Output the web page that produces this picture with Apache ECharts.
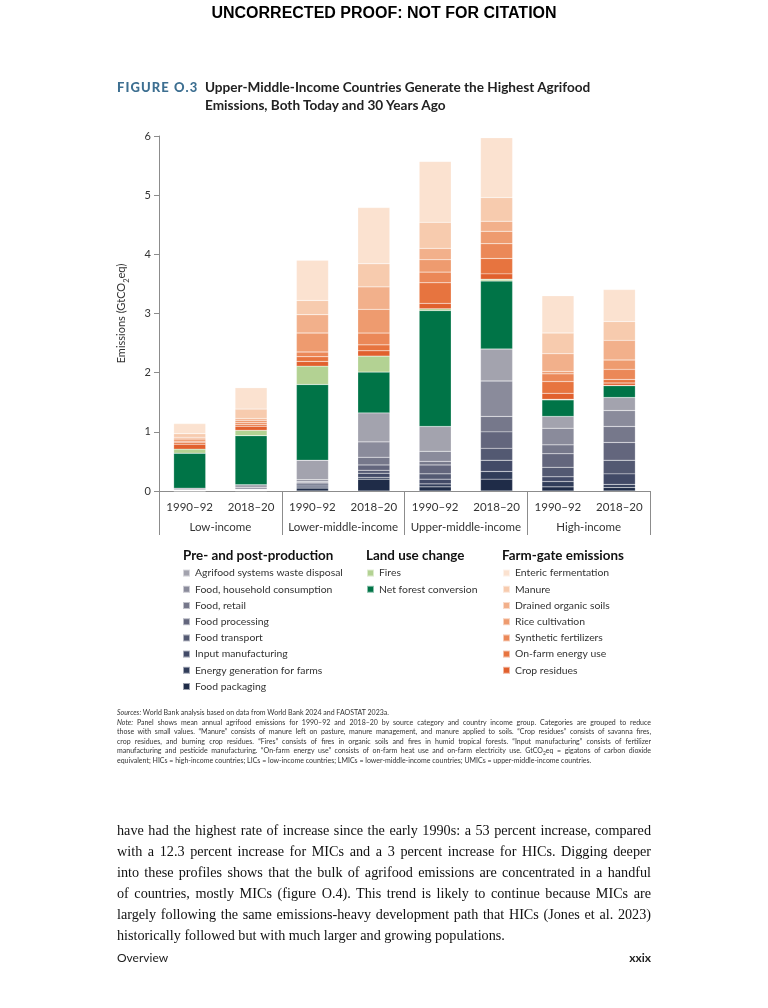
<!DOCTYPE html>
<html>
<head>
<meta charset="utf-8">
<script src="https://cdn.jsdelivr.net/npm/echarts@6/dist/echarts.min.js"></script>
<style>
  html, body { margin: 0; padding: 0; background: #fff; }
  #page { position: relative; width: 768px; height: 1008px; overflow: hidden; }
  #chart { position: absolute; left: 0; top: 0; width: 768px; height: 1008px; }
  .abs { position: absolute; }
  #proof { left: 0; width: 768px; top: 4px; text-align: center; font: bold 16px "Liberation Sans", Arial, sans-serif; color: #000; }
  #figlabel { left: 117px; top: 79px; font: 900 13px Lato, sans-serif; color: #3d6f91; letter-spacing: 1.1px; }
  #figtitle { left: 205px; top: 78px; font: bold 13.6px Lato, sans-serif; color: #222; line-height: 18px; }
  #notes { left: 117px; top: 708px; width: 534px; font: 7px Lato, sans-serif; color: #333; line-height: 9.5px; }
  #notes div { text-align: justify; text-align-last: justify; white-space: nowrap; height: 9.5px; }
  #notes div.last { text-align-last: left; }
  #notes sub { font-size: 5px; line-height: 0; vertical-align: -1.5px; }
  #body { left: 117px; top: 820px; width: 534px; font: 14.2px "Liberation Serif", "DejaVu Serif", serif; color: #111; line-height: 21px; }
  #body div { text-align: justify; text-align-last: justify; white-space: nowrap; }
  #body div.last { text-align-last: left; }
  #footL { left: 117px; top: 950px; font: 12px Lato, sans-serif; color: #222; }
  #footR { right: 117px; top: 950px; font: bold 12px Lato, sans-serif; color: #222; }
</style>
</head>
<body>
<div id="page">
  <div id="chart"></div>
  <div id="proof" class="abs">UNCORRECTED PROOF: NOT FOR CITATION</div>
  <div id="figlabel" class="abs">FIGURE O.3</div>
  <div id="figtitle" class="abs">Upper-Middle-Income Countries Generate the Highest Agrifood<br>Emissions, Both Today and 30 Years Ago</div>
  <div id="notes" class="abs">
    <div class="last"><i>Sources:</i> World Bank analysis based on data from World Bank 2024 and FAOSTAT 2023a.</div>
    <div><i>Note:</i> Panel shows mean annual agrifood emissions for 1990–92 and 2018–20 by source category and country income group. Categories are grouped to reduce</div>
    <div>those with small values. “Manure” consists of manure left on pasture, manure management, and manure applied to soils. “Crop residues” consists of savanna fires,</div>
    <div>crop residues, and burning crop residues. “Fires” consists of fires in organic soils and fires in humid tropical forests. “Input manufacturing” consists of fertilizer</div>
    <div>manufacturing and pesticide manufacturing. “On-farm energy use” consists of on-farm heat use and on-farm electricity use. GtCO<sub>2</sub>eq = gigatons of carbon dioxide</div>
    <div class="last">equivalent; HICs = high-income countries; LICs = low-income countries; LMICs = lower-middle-income countries; UMICs = upper-middle-income countries.</div>
  </div>
  <div id="body" class="abs">
    <div>have had the highest rate of increase since the early 1990s: a 53 percent increase, compared</div>
    <div>with a 12.3 percent increase for MICs and a 3 percent increase for HICs. Digging deeper</div>
    <div>into these profiles shows that the bulk of agrifood emissions are concentrated in a handful</div>
    <div>of countries, mostly MICs (figure O.4). This trend is likely to continue because MICs are</div>
    <div>largely following the same emissions-heavy development path that HICs (Jones et al. 2023)</div>
    <div class="last">historically followed but with much larger and growing populations.</div>
  </div>
  <div id="footL" class="abs">Overview</div>
  <div id="footR" class="abs">xxix</div>
</div>
<script>
// ---- Data ----
const periods = ['1990–92', '2018–20', '1990–92', '2018–20', '1990–92', '2018–20', '1990–92', '2018–20'];
const groups = ['Low-income', 'Lower-middle-income', 'Upper-middle-income', 'High-income'];
const yTicks = [0, 1, 2, 3, 4, 5, 6];

// Pre- and post-production (GtCO2eq)
const foodPackaging      = [0.002, 0.005, 0.05, 0.20, 0.07, 0.20, 0.07, 0.06];
const energyGeneration   = [0.001, 0.002, 0.02, 0.03, 0.05, 0.13, 0.09, 0.05];
const inputManufacturing = [0.002, 0.005, 0.03, 0.07, 0.08, 0.19, 0.08, 0.18];
const foodTransport      = [0.002, 0.005, 0.02, 0.05, 0.09, 0.20, 0.16, 0.23];
const foodProcessing     = [0.003, 0.005, 0.02, 0.09, 0.15, 0.28, 0.23, 0.30];
const foodRetail         = [0.003, 0.008, 0.02, 0.13, 0.06, 0.26, 0.15, 0.27];
const householdConsumption = [0.010, 0.025, 0.03, 0.26, 0.17, 0.60, 0.28, 0.27];
const wasteDisposal      = [0.025, 0.050, 0.33, 0.49, 0.42, 0.54, 0.20, 0.22];
// Land use change
const netForestConversion = [0.59, 0.83, 1.28, 0.69, 1.96, 1.15, 0.28, 0.20];
const fires              = [0.07, 0.09, 0.31, 0.27, 0.03, 0.03, 0.01, 0.005];
// Farm-gate emissions
const cropResidues       = [0.08, 0.07, 0.08, 0.09, 0.09, 0.09, 0.10, 0.04];
const onFarmEnergy       = [0.03, 0.03, 0.08, 0.10, 0.35, 0.26, 0.20, 0.06];
const syntheticFertilizers = [0.02, 0.03, 0.08, 0.20, 0.18, 0.25, 0.13, 0.17];
const riceCultivation    = [0.04, 0.04, 0.32, 0.40, 0.21, 0.21, 0.04, 0.16];
const drainedSoils       = [0.03, 0.03, 0.31, 0.38, 0.19, 0.17, 0.30, 0.33];
const manure             = [0.06, 0.16, 0.24, 0.39, 0.44, 0.40, 0.35, 0.32];
const entericFermentation = [0.17, 0.36, 0.68, 0.95, 1.03, 1.01, 0.63, 0.54];

// stacking order bottom -> top
const seriesDefs = [
  ['Food packaging', foodPackaging, '#1f2c48'],
  ['Energy generation for farms', energyGeneration, '#313d5a'],
  ['Input manufacturing', inputManufacturing, '#424a67'],
  ['Food transport', foodTransport, '#535972'],
  ['Food processing', foodProcessing, '#63667d'],
  ['Food, retail', foodRetail, '#76788b'],
  ['Food, household consumption', householdConsumption, '#8a8b9b'],
  ['Agrifood systems waste disposal', wasteDisposal, '#a3a3ae'],
  ['Net forest conversion', netForestConversion, '#007447'],
  ['Fires', fires, '#b3d293'],
  ['Crop residues', cropResidues, '#e1602d'],
  ['On-farm energy use', onFarmEnergy, '#e7743f'],
  ['Synthetic fertilizers', syntheticFertilizers, '#eb8858'],
  ['Rice cultivation', riceCultivation, '#ee9b6f'],
  ['Drained organic soils', drainedSoils, '#f2b08b'],
  ['Manure', manure, '#f7cbae'],
  ['Enteric fermentation', entericFermentation, '#fbe2d0']
];

const legendPre = ['Agrifood systems waste disposal', 'Food, household consumption', 'Food, retail', 'Food processing', 'Food transport', 'Input manufacturing', 'Energy generation for farms', 'Food packaging'];
const legendLand = ['Fires', 'Net forest conversion'];
const legendFarm = ['Enteric fermentation', 'Manure', 'Drained organic soils', 'Rice cultivation', 'Synthetic fertilizers', 'On-farm energy use', 'Crop residues'];

const chart = echarts.init(document.getElementById('chart'), null, { renderer: 'canvas' });
const FONT = 'Lato, "Open Sans", sans-serif';
const axisCol = '#8c8c8c';

const legendBase = {
  orient: 'vertical', icon: 'rect', itemWidth: 7, itemHeight: 7, itemGap: 0,
  selectedMode: false, padding: 0,
  textStyle: { fontFamily: FONT, fontSize: 10.4, color: '#333', lineHeight: 16.2, padding: [0, 0, 0, 0] }
};

chart.setOption({
  animation: false,
  grid: { left: 159, right: 118, top: 136, bottom: 517, containLabel: false },
  legend: [
    Object.assign({}, legendBase, { left: 182, top: 565, data: legendPre }),
    Object.assign({}, legendBase, { left: 366, top: 565, data: legendLand }),
    Object.assign({}, legendBase, { left: 502, top: 565, data: legendFarm })
  ],
  graphic: [
    { type: 'text', left: 183, top: 549, style: { text: 'Pre- and post-production', font: 'bold 13.4px ' + FONT, fill: '#111' } },
    { type: 'text', left: 366, top: 549, style: { text: 'Land use change', font: 'bold 13.4px ' + FONT, fill: '#111' } },
    { type: 'text', left: 502, top: 549, style: { text: 'Farm-gate emissions', font: 'bold 13.4px ' + FONT, fill: '#111' } }
  ],
  xAxis: [
    {
      type: 'category', data: periods, position: 'bottom',
      axisLine: { lineStyle: { color: axisCol, width: 1 } },
      axisTick: { length: 5, interval: 0, lineStyle: { color: axisCol } },
      axisLabel: { margin: 10, interval: 0, fontFamily: FONT, fontSize: 11.5, color: '#333' }
    },
    {
      type: 'category', data: groups, position: 'bottom',
      axisLine: { show: true, lineStyle: { color: axisCol, width: 1 } },
      axisTick: { show: true, length: 44, interval: 0, lineStyle: { color: axisCol } },
      axisLabel: { margin: 30, interval: 0, fontFamily: FONT, fontSize: 11.5, color: '#333' }
    }
  ],
  yAxis: {
    type: 'value', min: yTicks[0], max: yTicks[yTicks.length - 1], interval: 1,
    axisLine: { show: true, lineStyle: { color: axisCol } },
    axisTick: { show: true, length: 5, lineStyle: { color: axisCol } },
    splitLine: { show: false },
    axisLabel: { margin: 8, fontFamily: FONT, fontSize: 11, color: '#333' },
    name: 'Emissions (GtCO{sub|2}eq)', nameLocation: 'middle', nameGap: 32, nameRotate: 90,
    nameTextStyle: { fontFamily: FONT, fontSize: 11, color: '#333',
      rich: { sub: { fontFamily: FONT, fontSize: 7.5, color: '#333', verticalAlign: 'bottom', padding: [0, 0, -4, 0] } } }
  },
  series: seriesDefs.map(([name, values, color]) => ({
    name, type: 'bar', stack: 'total', xAxisIndex: 0, barWidth: 32,
    data: values,
    itemStyle: { color, borderColor: 'rgba(255,255,255,0.55)', borderWidth: 0.4 },
    emphasis: { disabled: true }
  }))
});
</script>
</body>
</html>
